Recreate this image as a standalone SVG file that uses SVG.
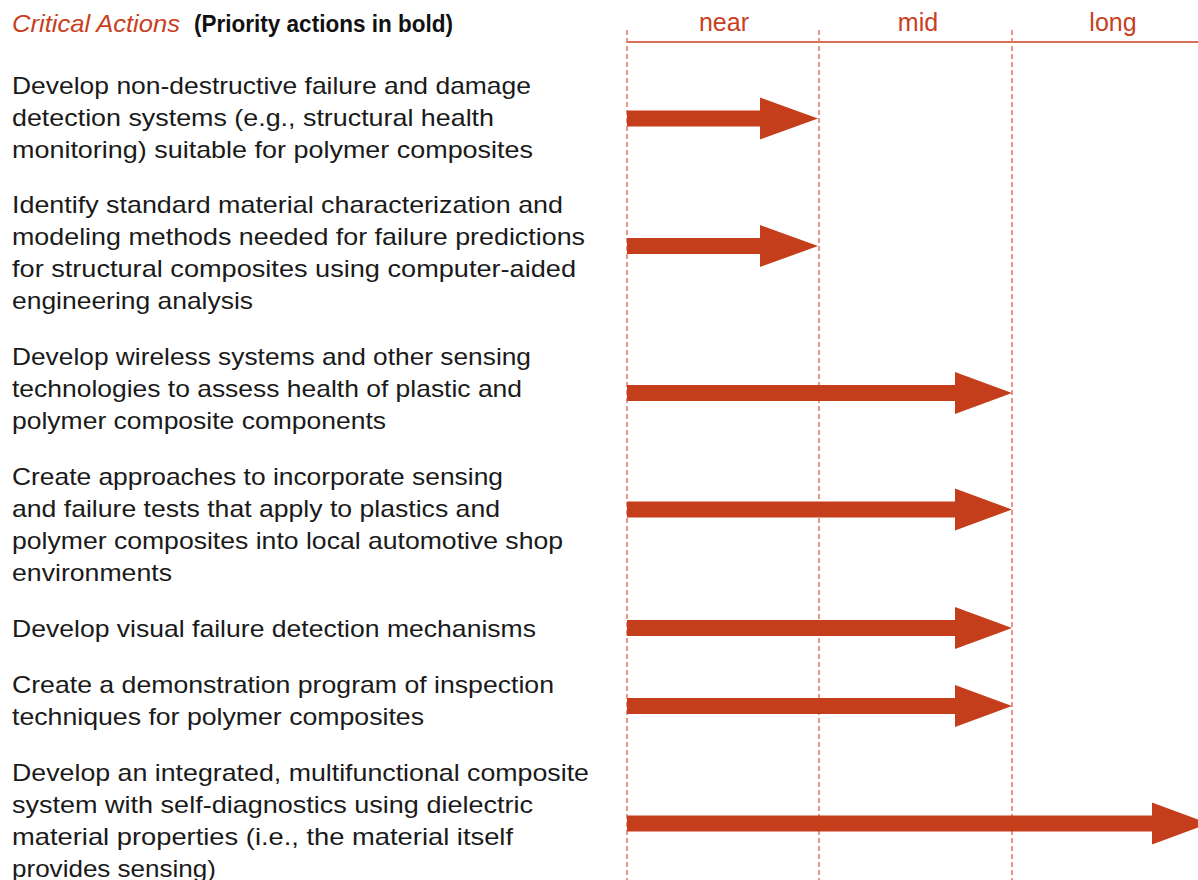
<svg xmlns="http://www.w3.org/2000/svg" width="1198" height="880" viewBox="0 0 1198 880">
<style>
.t{font-family:"Liberation Sans",Arial,sans-serif;font-size:24px;fill:#1a1a1a}
.hd{font-family:"Liberation Sans",Arial,sans-serif;font-size:25px;fill:#c8401e;text-anchor:middle}
.grid{stroke:#e0785f;stroke-width:1.5;stroke-dasharray:5 3;fill:none}
.arr{fill:#c43e1b}
</style>
<rect width="1198" height="880" fill="#fff"/>
<g id="header">
<text x="12" y="32" class="t" style="font-style:italic;fill:#c8401e" textLength="168" lengthAdjust="spacingAndGlyphs">Critical Actions</text>
<text x="194" y="32" class="t" style="font-weight:bold;fill:#111" textLength="259" lengthAdjust="spacingAndGlyphs">(Priority actions in bold)</text>
</g>
<g id="timeline">
<line x1="627" y1="42" x2="1198" y2="42" stroke="#c8401e" stroke-width="1.5"/>
<line class="grid" x1="627" y1="30" x2="627" y2="880"/>
<line class="grid" x1="819" y1="30" x2="819" y2="880"/>
<line class="grid" x1="1012" y1="30" x2="1012" y2="880"/>
<text class="hd" x="724" y="31">near</text>
<text class="hd" x="918" y="31">mid</text>
<text class="hd" x="1113" y="31">long</text>
</g>
<g id="action1">
<text class="t" x="12" y="94" textLength="519" lengthAdjust="spacingAndGlyphs">Develop non-destructive failure and damage</text>
<text class="t" x="12" y="126" textLength="482" lengthAdjust="spacingAndGlyphs">detection systems (e.g., structural health</text>
<text class="t" x="12" y="158" textLength="521" lengthAdjust="spacingAndGlyphs">monitoring) suitable for polymer composites</text>
</g>
<g id="action2">
<text class="t" x="12" y="213" textLength="551" lengthAdjust="spacingAndGlyphs">Identify standard material characterization and</text>
<text class="t" x="12" y="245" textLength="573" lengthAdjust="spacingAndGlyphs">modeling methods needed for failure predictions</text>
<text class="t" x="12" y="277" textLength="564" lengthAdjust="spacingAndGlyphs">for structural composites using computer-aided</text>
<text class="t" x="12" y="309" textLength="241" lengthAdjust="spacingAndGlyphs">engineering analysis</text>
</g>
<g id="action3">
<text class="t" x="12" y="365" textLength="519" lengthAdjust="spacingAndGlyphs">Develop wireless systems and other sensing</text>
<text class="t" x="12" y="397" textLength="510" lengthAdjust="spacingAndGlyphs">technologies to assess health of plastic and</text>
<text class="t" x="12" y="429" textLength="374" lengthAdjust="spacingAndGlyphs">polymer composite components</text>
</g>
<g id="action4">
<text class="t" x="12" y="485" textLength="491" lengthAdjust="spacingAndGlyphs">Create approaches to incorporate sensing</text>
<text class="t" x="12" y="517" textLength="488" lengthAdjust="spacingAndGlyphs">and failure tests that apply to plastics and</text>
<text class="t" x="12" y="549" textLength="551" lengthAdjust="spacingAndGlyphs">polymer composites into local automotive shop</text>
<text class="t" x="12" y="581" textLength="160" lengthAdjust="spacingAndGlyphs">environments</text>
</g>
<g id="action5">
<text class="t" x="12" y="637" textLength="524" lengthAdjust="spacingAndGlyphs">Develop visual failure detection mechanisms</text>
</g>
<g id="action6">
<text class="t" x="12" y="693" textLength="542" lengthAdjust="spacingAndGlyphs">Create a demonstration program of inspection</text>
<text class="t" x="12" y="725" textLength="412" lengthAdjust="spacingAndGlyphs">techniques for polymer composites</text>
</g>
<g id="action7">
<text class="t" x="12" y="781" textLength="577" lengthAdjust="spacingAndGlyphs">Develop an integrated, multifunctional composite</text>
<text class="t" x="12" y="813" textLength="521" lengthAdjust="spacingAndGlyphs">system with self-diagnostics using dielectric</text>
<text class="t" x="12" y="845" textLength="501" lengthAdjust="spacingAndGlyphs">material properties (i.e., the material itself</text>
<text class="t" x="12" y="877" textLength="204" lengthAdjust="spacingAndGlyphs">provides sensing)</text>
</g>
<g id="connectors">
<path class="arr" d="M627 110.5H760V97.5L818 118.5L760 139.5V126.5H627Z"/>
<path class="arr" d="M627 238H760V225L818 246L760 267V254H627Z"/>
<path class="arr" d="M627 385H955V372L1012 393L955 414V401H627Z"/>
<path class="arr" d="M627 501.5H955V488.5L1012 509.5L955 530.5V517.5H627Z"/>
<path class="arr" d="M627 620H955V607L1012 628L955 649V636H627Z"/>
<path class="arr" d="M627 698H955V685L1012 706L955 727V714H627Z"/>
<path class="arr" d="M627 815.5H1152V802.5L1209 823.5L1152 844.5V831.5H627Z"/>
</g>
</svg>
